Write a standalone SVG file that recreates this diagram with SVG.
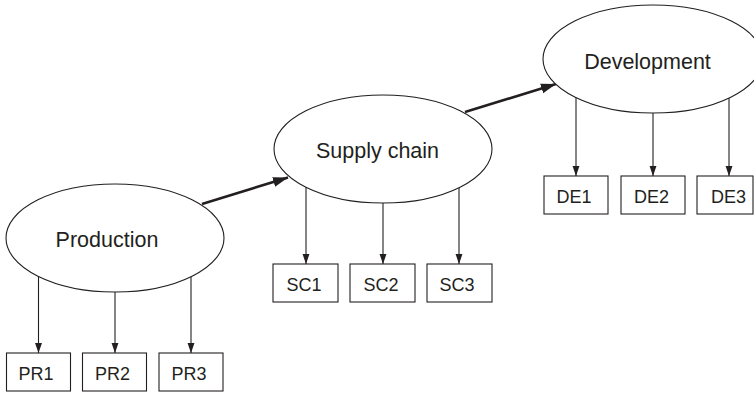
<svg xmlns="http://www.w3.org/2000/svg" width="754" height="394" viewBox="0 0 754 394">
  <style>
    .bg { fill: #ffffff; }
    .oval { fill: #ffffff; stroke: #231f20; stroke-width: 1.1; }
    .box { fill: #ffffff; stroke: #231f20; stroke-width: 1.1; }
    .big { font-family: "Liberation Sans", Arial, sans-serif; font-size: 21.5px; fill: #231f20; text-anchor: middle; }
    .small { font-family: "Liberation Sans", Arial, sans-serif; font-size: 18px; fill: #231f20; text-anchor: middle; }
    .thin { fill: none; stroke: #231f20; stroke-width: 1.1; marker-end: url(#headThin); }
    .thick { fill: none; stroke: #231f20; stroke-width: 2.6; marker-end: url(#headThick); }
  </style>
  <defs>
    <marker id="headThin" markerUnits="userSpaceOnUse" markerWidth="10" markerHeight="14" refX="13" refY="4.5" viewBox="0 0 13 9" orient="auto">
      <path d="M0,0 L13,4.5 L0,9 Z" fill="#231f20"/>
    </marker>
    <marker id="headThick" markerUnits="userSpaceOnUse" markerWidth="15" markerHeight="11" refX="15" refY="5" viewBox="0 0 15 10" orient="auto">
      <path d="M0,0 L15,5 L0,10 Z" fill="#231f20"/>
    </marker>
  </defs>

  <rect class="bg" x="0" y="0" width="754" height="394"/>

  <g id="connectors">
    <!-- main flow -->
    <line class="thick" x1="202" y1="204" x2="288" y2="177.5"/>
    <line class="thick" x1="465" y1="112" x2="556" y2="84"/>
    <!-- Production children -->
    <line class="thin" x1="38.5" y1="276.2" x2="38.5" y2="353"/>
    <line class="thin" x1="115" y1="292" x2="115" y2="353"/>
    <line class="thin" x1="191" y1="276.7" x2="191" y2="353"/>
    <!-- Supply chain children -->
    <line class="thin" x1="306" y1="187.2" x2="306" y2="264"/>
    <line class="thin" x1="383" y1="203" x2="383" y2="264"/>
    <line class="thin" x1="459" y1="187.7" x2="459" y2="264"/>
    <!-- Development children -->
    <line class="thin" x1="576" y1="97.6" x2="576" y2="176"/>
    <line class="thin" x1="653" y1="113" x2="653" y2="176"/>
    <line class="thin" x1="729" y1="98" x2="729" y2="176"/>
  </g>

  <g id="production">
    <ellipse class="oval" cx="115" cy="238" rx="109" ry="54"/>
    <text class="big" x="107" y="247">Production</text>
  </g>
  <g id="supply-chain">
    <ellipse class="oval" cx="383" cy="149" rx="109" ry="54"/>
    <text class="big" x="377.5" y="158">Supply chain</text>
  </g>
  <g id="development">
    <ellipse class="oval" cx="653" cy="59" rx="110" ry="54"/>
    <text class="big" x="647.5" y="69">Development</text>
  </g>

  <g id="pr1">
    <rect class="box" x="6.5" y="353" width="64" height="38"/>
    <text class="small" x="36" y="379.5">PR1</text>
  </g>
  <g id="pr2">
    <rect class="box" x="82.5" y="353" width="64" height="38"/>
    <text class="small" x="112.5" y="379.5">PR2</text>
  </g>
  <g id="pr3">
    <rect class="box" x="159" y="353" width="64" height="38"/>
    <text class="small" x="189" y="379.5">PR3</text>
  </g>

  <g id="sc1">
    <rect class="box" x="273" y="264" width="65" height="38"/>
    <text class="small" x="304" y="290.5">SC1</text>
  </g>
  <g id="sc2">
    <rect class="box" x="350" y="264" width="65" height="38"/>
    <text class="small" x="381" y="290.5">SC2</text>
  </g>
  <g id="sc3">
    <rect class="box" x="427" y="264" width="65" height="38"/>
    <text class="small" x="457" y="290.5">SC3</text>
  </g>

  <g id="de1">
    <rect class="box" x="544" y="176" width="64" height="38"/>
    <text class="small" x="574" y="202.5">DE1</text>
  </g>
  <g id="de2">
    <rect class="box" x="621" y="176" width="64" height="38"/>
    <text class="small" x="651.5" y="202.5">DE2</text>
  </g>
  <g id="de3">
    <rect class="box" x="697" y="176" width="56" height="38"/>
    <text class="small" x="728.5" y="202.5">DE3</text>
  </g>
</svg>
